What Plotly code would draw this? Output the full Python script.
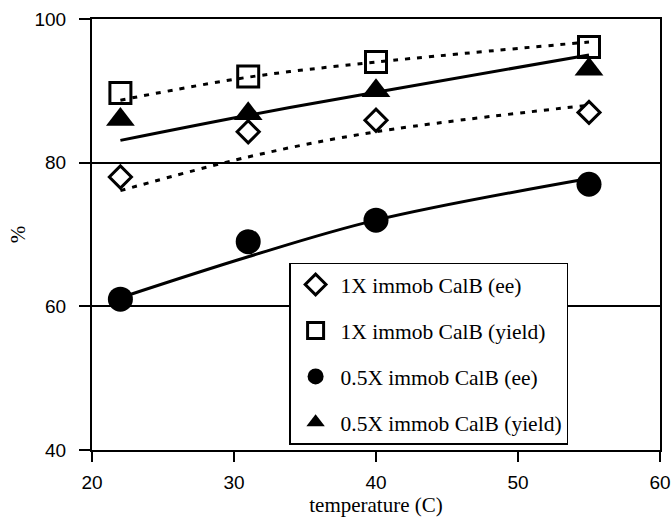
import plotly.graph_objects as go

temperature = [22, 31, 40, 55]

ee_1x = [78.0, 84.3, 85.9, 87.0]
yield_1x = [89.7, 92.0, 94.0, 96.1]
ee_05x = [61.0, 69.0, 72.0, 77.0]
yield_05x = [86.0, 86.8, 90.0, 93.0]

# trend lines
trend_ee_1x = [76.1, 80.8, 84.3, 88.0]
trend_yield_1x = [88.7, 91.9, 94.0, 96.8]
trend_ee_05x = [61.2, 66.9, 72.0, 77.8]
trend_yield_05x = [83.1, 86.6, 89.8, 95.0]

names = ["1X immob CalB (ee)", "1X immob CalB (yield)",
         "0.5X immob CalB (ee)", "0.5X immob CalB (yield)"]

fig = go.Figure()

# trend lines
for tr, dash in [(trend_ee_1x, "5px,7px"), (trend_yield_1x, "5px,7px"),
                 (trend_ee_05x, "solid"), (trend_yield_05x, "solid")]:
    fig.add_trace(go.Scatter(x=temperature, y=tr, mode="lines", showlegend=False,
                             line=dict(color="black", width=3, dash=dash, shape="spline"),
                             hoverinfo="skip"))

marker_specs = [
    (ee_1x, dict(symbol="diamond-open", size=17, color="black", line=dict(width=3, color="black"))),
    (yield_1x, dict(symbol="square-open", size=21, color="black", line=dict(width=3, color="black"))),
    (ee_05x, dict(symbol="circle", size=25, color="black")),
    (yield_05x, dict(symbol="triangle-up", size=25, color="black")),
]
for i, (vals, mk) in enumerate(marker_specs):
    fig.add_trace(go.Scatter(x=temperature, y=vals, mode="markers", name=names[i],
                             legendgroup=str(i), marker=mk))

fig.update_layout(
    width=671, height=519,
    margin=dict(l=92, r=11, t=19, b=69, autoexpand=False),
    paper_bgcolor="white", plot_bgcolor="white",
    font=dict(family="Liberation Serif", size=21, color="black"),
    showlegend=True,
    legend=dict(x=0.347, y=0.435, xanchor="left", yanchor="top",
                bgcolor="white", bordercolor="black", borderwidth=1.5,
                font=dict(family="Liberation Serif", size=21.5, color="black"),
                tracegroupgap=15, itemsizing="trace", itemwidth=40),
)
fig.update_xaxes(range=[20, 60], tickvals=[20, 30, 40, 50, 60], automargin=False,
                 showgrid=False, zeroline=False,
                 showline=True, mirror=True, linecolor="black", linewidth=2,
                 ticks="outside", ticklen=10, tickwidth=2, tickcolor="black",
                 ticklabelstandoff=4,
                 tickfont=dict(family="Liberation Sans", size=19),
                 title=dict(text="temperature (C)", font=dict(family="Liberation Serif", size=21), standoff=3))
fig.update_yaxes(range=[40, 100], tickvals=[40, 60, 80, 100], automargin=False,
                 showgrid=True, gridcolor="black", gridwidth=1.5, zeroline=False,
                 showline=True, mirror=True, linecolor="black", linewidth=2,
                 ticks="outside", ticklen=11, tickwidth=2, tickcolor="black",
                 ticklabelstandoff=9,
                 tickfont=dict(family="Liberation Sans", size=19),
                 title=dict(text="%", font=dict(family="Liberation Serif", size=21), standoff=3))

fig.write_html("out.html", config={"displayModeBar": False},
               post_script="document.body.style.margin='0px';document.body.style.overflow='hidden';")
